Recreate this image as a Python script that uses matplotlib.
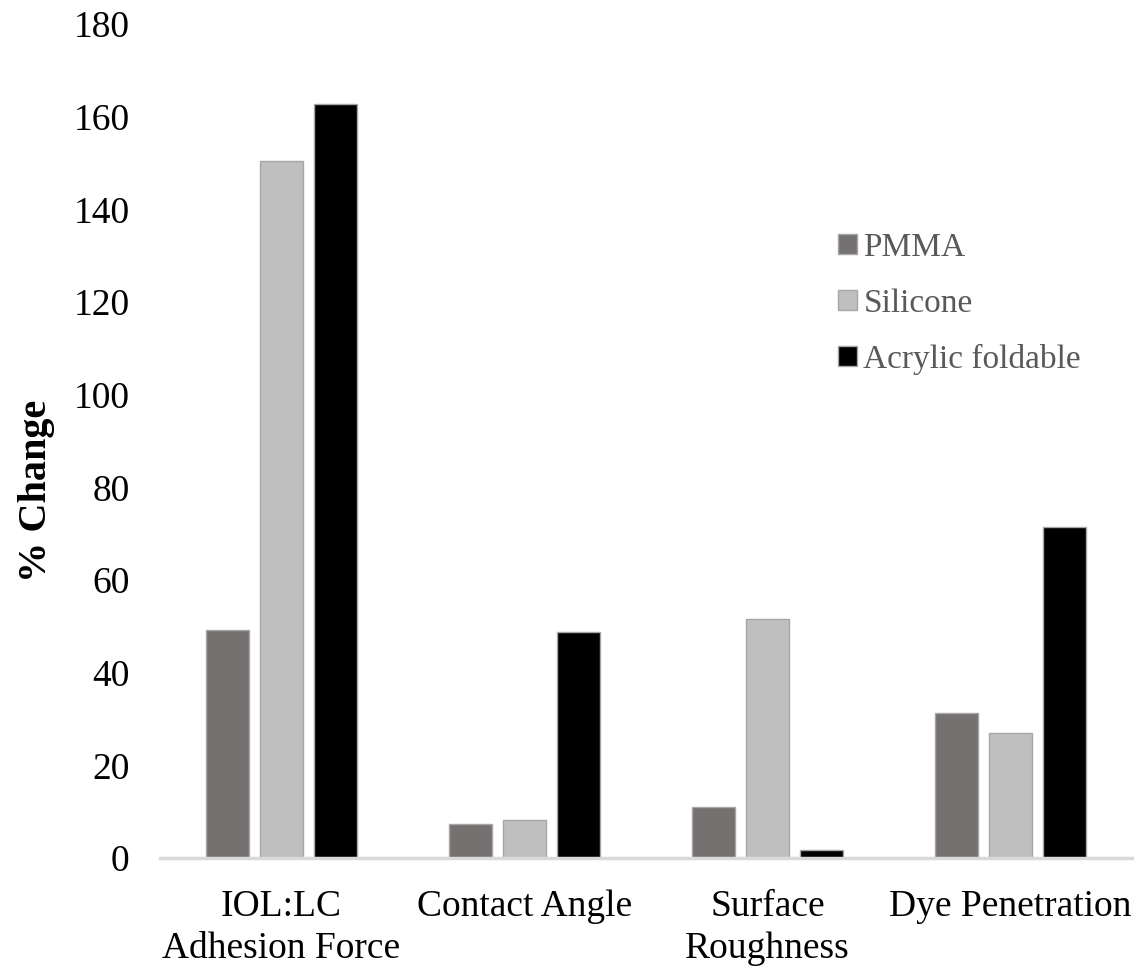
import matplotlib
matplotlib.use("Agg")
import matplotlib.pyplot as plt
import numpy as np

categories = ["IOL:LC\nAdhesion Force", "Contact Angle", "Surface\nRoughness", "Dye Penetration"]
series_names = ["PMMA", "Silicone", "Acrylic foldable"]
pmma = [49.3, 7.3, 11.0, 31.4]
silicone = [150.5, 8.2, 51.6, 27.0]
acrylic = [162.7, 48.8, 1.8, 71.5]
y_ticks = [0, 20, 40, 60, 80, 100, 120, 140, 160, 180]

colors = ["#767171", "#BFBFBF", "#000000"]

plt.rcParams["font.family"] = ["Liberation Serif", "DejaVu Serif"]

fig = plt.figure(figsize=(11.38, 9.66), dpi=100)
ax = fig.add_axes([0.1406, 0.1118, 0.8541, 0.8632])

x = np.arange(len(categories))
width = 0.177
step = 0.222
for i, (vals, name, c) in enumerate(zip([pmma, silicone, acrylic], series_names, colors)):
    ax.bar(x + (i - 1) * step, vals, width, color=c, edgecolor="#A6A6A6",
           linewidth=1.0, label=name, zorder=2)

ax.set_xlim(-0.5, len(categories) - 0.5)
ax.set_ylim(0, 180)
ax.set_yticks(y_ticks)
ax.set_yticklabels([str(v) for v in y_ticks], fontsize=27)
ax.set_xticks(x)
ax.set_xticklabels(categories, fontsize=27, linespacing=1.28)
ax.tick_params(axis="both", length=0)
ax.tick_params(axis="y", pad=22)
ax.tick_params(axis="x", pad=23)

for side in ["top", "right", "left"]:
    ax.spines[side].set_visible(False)
ax.spines["bottom"].set_color("#D9D9D9")
ax.spines["bottom"].set_linewidth(2.5)
ax.spines["bottom"].set_zorder(3)

ax.set_ylabel("% Change", fontsize=29, fontweight="bold")
ax.yaxis.set_label_coords(-0.127, 0.44)
ax.yaxis.label.set_verticalalignment("center")

ax.legend(loc="upper left", bbox_to_anchor=(0.667, 0.786), frameon=False,
          fontsize=24, handlelength=0.55, handleheight=0.55,
          handletextpad=0.2, labelspacing=0.75, labelcolor="#595959")

fig.savefig("out.png", dpi=100)
